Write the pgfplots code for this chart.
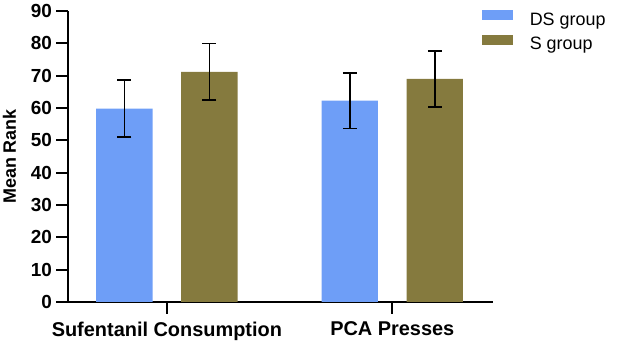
\documentclass[border=0pt]{standalone}
\usepackage{fontspec}
\setmainfont{Liberation Sans}
\usepackage{pgfplots}
\pgfplotsset{compat=1.18}
\definecolor{dsblue}{RGB}{110,158,247}
\definecolor{solive}{RGB}{133,122,62}
\begin{document}
\begin{tikzpicture}
\path (0,0) rectangle (617bp,343bp);
\begin{axis}[
  at={(67.7bp,41bp)}, anchor=south west,
  scale only axis, width=425bp, height=291bp,
  xmin=-0.44, xmax=1.4454, ymin=0, ymax=90,
  clip=false,
  axis x line*=bottom, axis y line*=left,
  axis line style={line width=2.2bp, black},
  xtick={0,1}, xticklabels={Sufentanil Consumption, PCA Presses},
  ytick={0,10,...,90},
  major tick length=0pt, tick style={draw=none},
  tickline/.style={black, line width=2bp, forget plot, mark=none},
  /pgf/number format/assume math mode=true,
  xticklabel style={font=\bfseries\fontsize{20}{20}\selectfont, inner sep=0pt, anchor=north, yshift=-19.5bp},
  yticklabel style={font=\bfseries\fontsize{19}{19}\selectfont, inner sep=0pt, anchor=east, xshift=-15.5bp},
  ylabel={Mean Rank},
  ylabel style={font=\bfseries\fontsize{18}{18}\selectfont, inner sep=0pt,
    at={(axis description cs:-0.137,0.5)}, anchor=center},
  legend image code/.code={\fill[#1] (0bp,0.6bp) rectangle (31.6bp,10.6bp);},
  legend cell align=left,
  legend style={at={(axis description cs:0.9741,1.0021)}, anchor=north west,
    draw=none, fill=none, inner sep=0pt, outer sep=0pt,
    font=\fontsize{18}{18}\selectfont, row sep=5.2bp,
    nodes={inner sep=0pt, text height=12.9bp, text depth=3.8bp},
    /tikz/every odd column/.append style={column sep=16.5bp}},
]
% bars sit 0.1886 units either side of each category (x = 0, 1)
% DS group
\addplot[ybar, bar width=56.3bp, bar shift=0pt, fill=dsblue, draw=none,
  error bars/.cd, y dir=both, y explicit,
  error bar style={line width=1.6bp, black},
  error mark options={rotate=90, mark size=7bp, line width=1.6bp, black}]
  coordinates {(-0.1886,59.8) +- (0,8.8) (0.8114,62.3) +- (0,8.6)};
\addlegendentry{DS group}
% S group
\addplot[ybar, bar width=56.3bp, bar shift=0pt, fill=solive, draw=none,
  error bars/.cd, y dir=both, y explicit,
  error bar style={line width=1.6bp, black},
  error mark options={rotate=90, mark size=7bp, line width=1.6bp, black}]
  coordinates {(0.1886,71.2) +- (0,8.8) (1.1886,69.0) +- (0,8.6)};
\addlegendentry{S group}
% outward tick marks, 12bp long (0.0532 x units, 3.711 y units)
\pgfplotsinvokeforeach{0,10,...,90}{
  \addplot[tickline] coordinates {(-0.44,#1) (-0.4932,#1)};
}
\addplot[tickline] coordinates {(0,0) (0,-3.711)};
\addplot[tickline] coordinates {(1,0) (1,-3.711)};
\end{axis}
\end{tikzpicture}
\end{document}
